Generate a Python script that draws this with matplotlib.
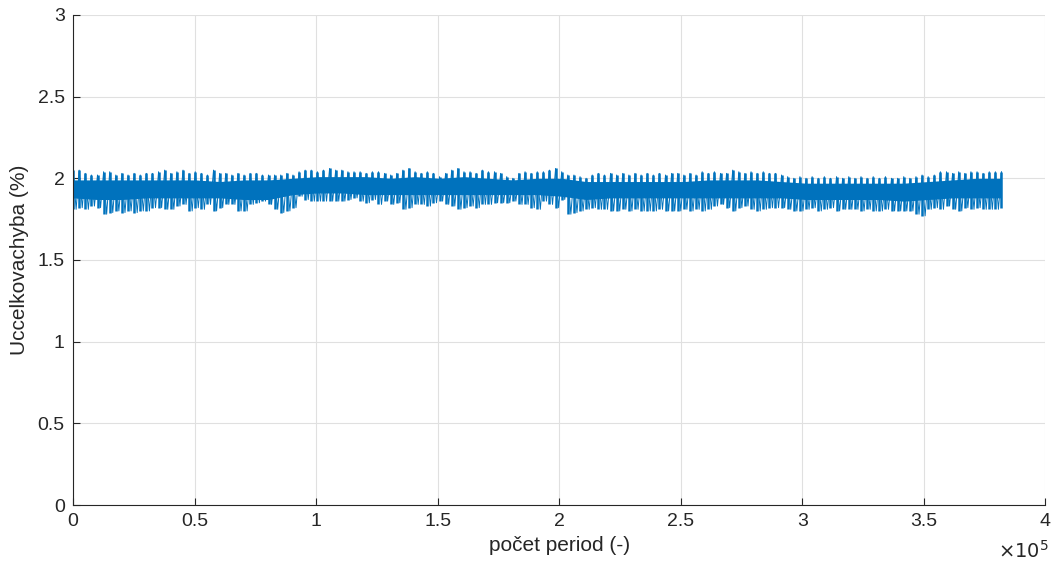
import matplotlib.pyplot as plt
import numpy as np

plt.rcParams['font.family'] = ['Liberation Sans', 'DejaVu Sans']

# sample grid (pocet period), one max/min pair per ~2500 periods
x = np.linspace(0, 382000, 153)

# local maxima of the signal (%)
u_max = [
    2.05, 2.05, 2.03, 2.02, 2.02, 2.04, 2.04, 2.02, 2.03, 2.02, 2.03, 2.02, 2.03,
    2.03, 2.04, 2.05, 2.03, 2.04, 2.05, 2.03, 2.04, 2.03, 2.02, 2.05, 2.03, 2.03,
    2.02, 2.03, 2.02, 2.03, 2.03, 2.02, 2.02, 2.02, 2.02, 2.03, 2.02, 2.04, 2.05,
    2.05, 2.04, 2.05, 2.06, 2.05, 2.05, 2.04, 2.04, 2.04, 2.03, 2.04, 2.04, 2.03,
    2.02, 2.03, 2.05, 2.06, 2.04, 2.03, 2.04, 2.03, 2.01, 2.03, 2.05, 2.06, 2.04,
    2.04, 2.03, 2.05, 2.04, 2.04, 2.03, 2.01, 2.00, 2.03, 2.04, 2.03, 2.04,
    2.04, 2.05, 2.06, 2.04, 2.02, 2.02, 2.01, 2.00, 2.02, 2.03, 2.02, 2.03, 2.02,
    2.03, 2.02, 2.03, 2.02, 2.03, 2.02, 2.03, 2.02, 2.03, 2.03, 2.02, 2.03, 2.02,
    2.04, 2.03, 2.04, 2.03, 2.03, 2.05, 2.04, 2.03, 2.04, 2.03, 2.04, 2.03, 2.03,
    2.02, 2.01, 2.00, 2.01, 2.00, 2.01, 2.00, 2.01, 2.00, 2.01, 2.00, 2.01,
    2.00, 2.01, 2.00, 2.01, 2.00, 2.01, 2.00, 2.00, 2.01, 2.00, 2.01, 2.02, 2.01,
    2.02, 2.04, 2.04, 2.03, 2.04, 2.03, 2.04, 2.04, 2.03, 2.04, 2.04, 2.04,
]

# local minima of the signal (%)
u_min = [
    1.81, 1.82, 1.81, 1.83, 1.82, 1.78, 1.79, 1.80, 1.79, 1.80, 1.79, 1.80, 1.80,
    1.82, 1.82, 1.81, 1.81, 1.83, 1.84, 1.80, 1.82, 1.81, 1.84, 1.80, 1.82, 1.84,
    1.84, 1.80, 1.80, 1.84, 1.85, 1.86, 1.84, 1.81, 1.79, 1.80, 1.82, 1.89, 1.87,
    1.86, 1.86, 1.86, 1.86, 1.86, 1.86, 1.87, 1.88, 1.86, 1.85, 1.87, 1.84, 1.86,
    1.84, 1.85, 1.81, 1.82, 1.84, 1.84, 1.83, 1.85, 1.86, 1.84, 1.83, 1.81, 1.82,
    1.83, 1.82, 1.84, 1.84, 1.85, 1.85, 1.85, 1.86, 1.84, 1.84, 1.82, 1.81,
    1.86, 1.84, 1.82, 1.87, 1.78, 1.79, 1.80, 1.81, 1.82, 1.81, 1.81, 1.80, 1.80,
    1.81, 1.80, 1.81, 1.80, 1.80, 1.80, 1.81, 1.80, 1.80, 1.80, 1.81, 1.80, 1.81,
    1.80, 1.81, 1.83, 1.84, 1.82, 1.80, 1.82, 1.83, 1.81, 1.80, 1.81, 1.82, 1.82,
    1.82, 1.81, 1.80, 1.80, 1.81, 1.82, 1.80, 1.81, 1.82, 1.80, 1.81, 1.81,
    1.81, 1.80, 1.81, 1.80, 1.80, 1.81, 1.80, 1.80, 1.80, 1.80, 1.78, 1.77, 1.81,
    1.82, 1.81, 1.83, 1.81, 1.80, 1.82, 1.81, 1.82, 1.81, 1.81, 1.81, 1.82,
]

# dense core of the band, every ~10000 periods
x_core = np.linspace(0, 382000, 39)
core_hi = [1.99, 1.99, 1.99, 1.99, 1.99, 1.99, 1.98, 1.99, 1.99, 2.00, 2.01, 2.01, 2.01,
           2.00, 2.01, 2.00, 2.01, 2.00, 1.99, 2.00, 2.00, 1.98, 1.98, 1.98, 1.98, 1.98,
           1.99, 1.99, 1.99, 1.98, 1.97, 1.97, 1.97, 1.97, 1.97, 1.98, 1.99, 2.00, 2.00]
core_lo = [1.88, 1.87, 1.87, 1.88, 1.88, 1.88, 1.88, 1.87, 1.87, 1.90, 1.91, 1.91, 1.90,
           1.90, 1.90, 1.90, 1.90, 1.90, 1.90, 1.90, 1.89, 1.87, 1.88, 1.88, 1.88, 1.88,
           1.88, 1.88, 1.88, 1.88, 1.87, 1.87, 1.87, 1.87, 1.86, 1.87, 1.88, 1.88, 1.88]

blue = '#0072BD'

fig = plt.figure(figsize=(10.59, 5.72), dpi=100)
ax = fig.add_axes([0.069, 0.117, 0.918, 0.857])

# signal: each sample spans its local min..max, neighbours joined
ax.vlines(x, u_min, u_max, color=blue, lw=1.8)
xs = np.empty(2 * len(x) - 1)
xs[0::2] = x
xs[1::2] = x[:-1] + 1250
ys = np.empty(2 * len(x) - 1)
ys[0::2] = u_max
ys[1::2] = u_min[:-1]
ax.plot(xs, ys, color=blue, lw=0.7)
ax.fill_between(x_core, core_lo, core_hi, color=blue, lw=0)

ax.set_xlim(0, 400000)
ax.set_ylim(0, 3)
ax.set_xticks(np.arange(0, 400001, 50000))
ax.set_xticklabels(['0', '0.5', '1', '1.5', '2', '2.5', '3', '3.5', '4'])
ax.set_yticks(np.arange(0, 3.01, 0.5))
ax.set_yticklabels(['0', '0.5', '1', '1.5', '2', '2.5', '3'])
ax.grid(True, color='#e0e0e0', lw=0.8)
ax.set_axisbelow(True)

for s in ['top', 'right']:
    ax.spines[s].set_visible(False)
for s in ['left', 'bottom']:
    ax.spines[s].set_color('#262626')
    ax.spines[s].set_linewidth(0.8)

ax.tick_params(direction='in', length=5, width=0.8, colors='#262626', labelsize=14, pad=6)
ax.set_xlabel('počet period (-)', fontsize=15, color='#262626', labelpad=4)
ax.set_ylabel('Uccelkovachyba (%)', fontsize=15, color='#262626', labelpad=6)
fig.text(0.99, 0.025, r'$\times10^5$', fontsize=14, color='#262626', ha='right')

fig.savefig('out.png', dpi=100)
